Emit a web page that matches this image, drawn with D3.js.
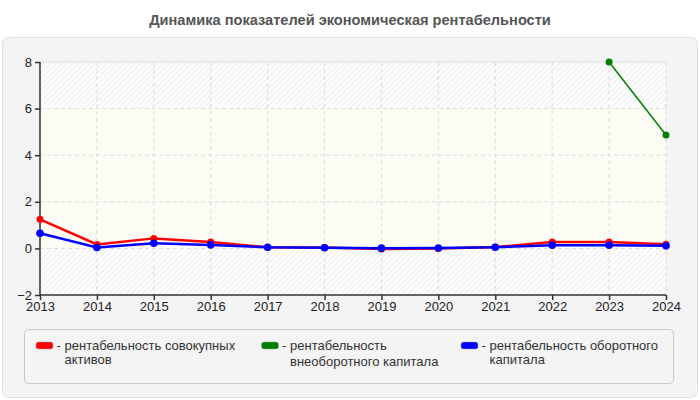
<!DOCTYPE html>
<html><head><meta charset="utf-8">
<script src="https://cdn.jsdelivr.net/npm/d3@7"></script>
<style>
body{margin:0;background:#fff;font-family:"Liberation Sans",Arial,sans-serif;}
svg{display:block;}
</style></head>
<body>
<svg id="c" width="700" height="400"></svg>
<script>
const title = "Динамика показателей экономическая рентабельности";
const years = ["2013","2014","2015","2016","2017","2018","2019","2020","2021","2022","2023","2024"];
const yTicks = [-2, 0, 2, 4, 6, 8];
const seriesNames = ["рентабельность совокупных активов", "рентабельность внеоборотного капитала", "рентабельность оборотного капитала"];
const seriesColors = ["#ff0000", "#008000", "#0000ff"];
const assetsValues = [1.25, 0.17, 0.43, 0.27, 0.05, 0.04, -0.03, 0.0, 0.06, 0.27, 0.27, 0.18];
const nonCurrentValues = [null, null, null, null, null, null, null, null, null, null, 8.0, 4.87];
const currentValues = [0.65, 0.04, 0.22, 0.15, 0.05, 0.03, 0.01, 0.02, 0.05, 0.14, 0.14, 0.11];

const svg = d3.select("#c");
const W = 700, H = 400;
const m = {l: 40, r: 34, t: 62, b: 105};

svg.append("rect").attr("x",0).attr("y",0).attr("width",W).attr("height",H).attr("fill","#fff");
svg.append("text").attr("x",350).attr("y",25).attr("text-anchor","middle")
  .attr("font-size",14.6).attr("font-weight","bold").attr("fill","#555").text(title);
svg.append("rect").attr("x",2.5).attr("y",37.5).attr("width",695).attr("height",360).attr("rx",6)
  .attr("fill","#f4f4f4").attr("stroke","#e2e2e2");

const x = d3.scalePoint().domain(years).range([m.l, W - m.r]);
const y = d3.scaleLinear().domain([-2, 8]).range([H - m.b, m.t]);

const defs = svg.append("defs");
const pat = defs.append("pattern").attr("id","hatch").attr("patternUnits","userSpaceOnUse")
  .attr("width",4).attr("height",4).attr("patternTransform","rotate(45)");
pat.append("rect").attr("width",4).attr("height",4).attr("fill","#fdfdfd");
pat.append("line").attr("x1",0).attr("y1",0).attr("x2",0).attr("y2",4).attr("stroke","#eaeaea").attr("stroke-width",1.5);

const x0 = m.l, x1 = W - m.r;
svg.append("rect").attr("x",x0).attr("y",y(8)).attr("width",x1-x0).attr("height",y(-2)-y(8)).attr("fill","url(#hatch)");
svg.append("rect").attr("x",x0).attr("y",y(6)).attr("width",x1-x0).attr("height",y(0)-y(6)).attr("fill","#fdfdf6");
svg.append("line").attr("x1",x0).attr("x2",x1).attr("y1",y(8)).attr("y2",y(8)).attr("stroke","#e0e0e0");

const grid = svg.append("g");
years.forEach(yr => {
  grid.append("line").attr("x1",x(yr)).attr("x2",x(yr)).attr("y1",y(8)).attr("y2",y(-2))
    .attr("stroke","#dcdcdc").attr("stroke-dasharray","4,3");
});
yTicks.filter(t => t > -2 && t < 8).forEach(t => {
  grid.append("line").attr("x1",x0).attr("x2",x1).attr("y1",y(t)).attr("y2",y(t))
    .attr("stroke","#dcdcdc").attr("stroke-dasharray","4,3");
});

const yAxis = svg.append("g").attr("transform",`translate(${x0},0)`)
  .call(d3.axisLeft(y).tickValues(yTicks).tickSize(5).tickPadding(3));
const xAxis = svg.append("g").attr("transform",`translate(0,${y(-2)})`)
  .call(d3.axisBottom(x).tickSize(5).tickPadding(2));
[yAxis, xAxis].forEach(a => {
  a.select(".domain").attr("stroke","#333").attr("stroke-width",1.5);
  a.selectAll(".tick line").attr("stroke","#333").attr("stroke-width",1.5);
  a.selectAll("text").attr("font-size",13).attr("fill","#222").attr("font-family","'Liberation Sans',Arial,sans-serif");
});
xAxis.select(".domain").attr("d",`M${x0},0H${x1}`);
yAxis.select(".domain").attr("d",`M0,${y(8)}V${y(-2)}`);

const data = [assetsValues, nonCurrentValues, currentValues];
const widths = [2.5, 1.5, 2.5];
const radii = [3.5, 3.5, 3.8];
const line = d3.line().defined(d => d.v != null).x(d => x(d.k)).y(d => y(d.v));
data.forEach((vals, i) => {
  const pts = years.map((k, j) => ({k, v: vals[j]}));
  svg.append("path").datum(pts).attr("d", line).attr("fill","none")
    .attr("stroke",seriesColors[i]).attr("stroke-width",widths[i]);
  svg.append("g").selectAll("circle").data(pts.filter(d => d.v != null)).join("circle")
    .attr("cx", d => x(d.k)).attr("cy", d => y(d.v)).attr("r", radii[i]).attr("fill", seriesColors[i]);
});

svg.append("rect").attr("x",24.5).attr("y",329.5).attr("width",649).attr("height",54).attr("rx",4)
  .attr("fill","#f4f4f4").attr("stroke","#c8c8c8");
const legendX = [36, 261.5, 461];
const legendLines = [["рентабельность совокупных","активов"],["рентабельность","внеоборотного капитала"],["рентабельность оборотного","капитала"]];
const secondLineY = [364, 366, 364];
legendLines.forEach((ls, i) => {
  svg.append("rect").attr("x",legendX[i]).attr("y",342).attr("width",17).attr("height",7).attr("rx",2.5)
    .attr("fill",seriesColors[i]).attr("stroke","#999").attr("stroke-width",0.5);
  svg.append("text").attr("x",legendX[i]+20.5).attr("y",349.5).attr("font-size",13).attr("fill","#333").text("-");
  const t = svg.append("text").attr("font-size",13).attr("fill","#333");
  t.append("tspan").attr("x",legendX[i]+28.5).attr("y",349.5).text(ls[0]);
  t.append("tspan").attr("x",legendX[i]+28.5).attr("y",secondLineY[i]).text(ls[1]);
});
</script>
</body></html>
